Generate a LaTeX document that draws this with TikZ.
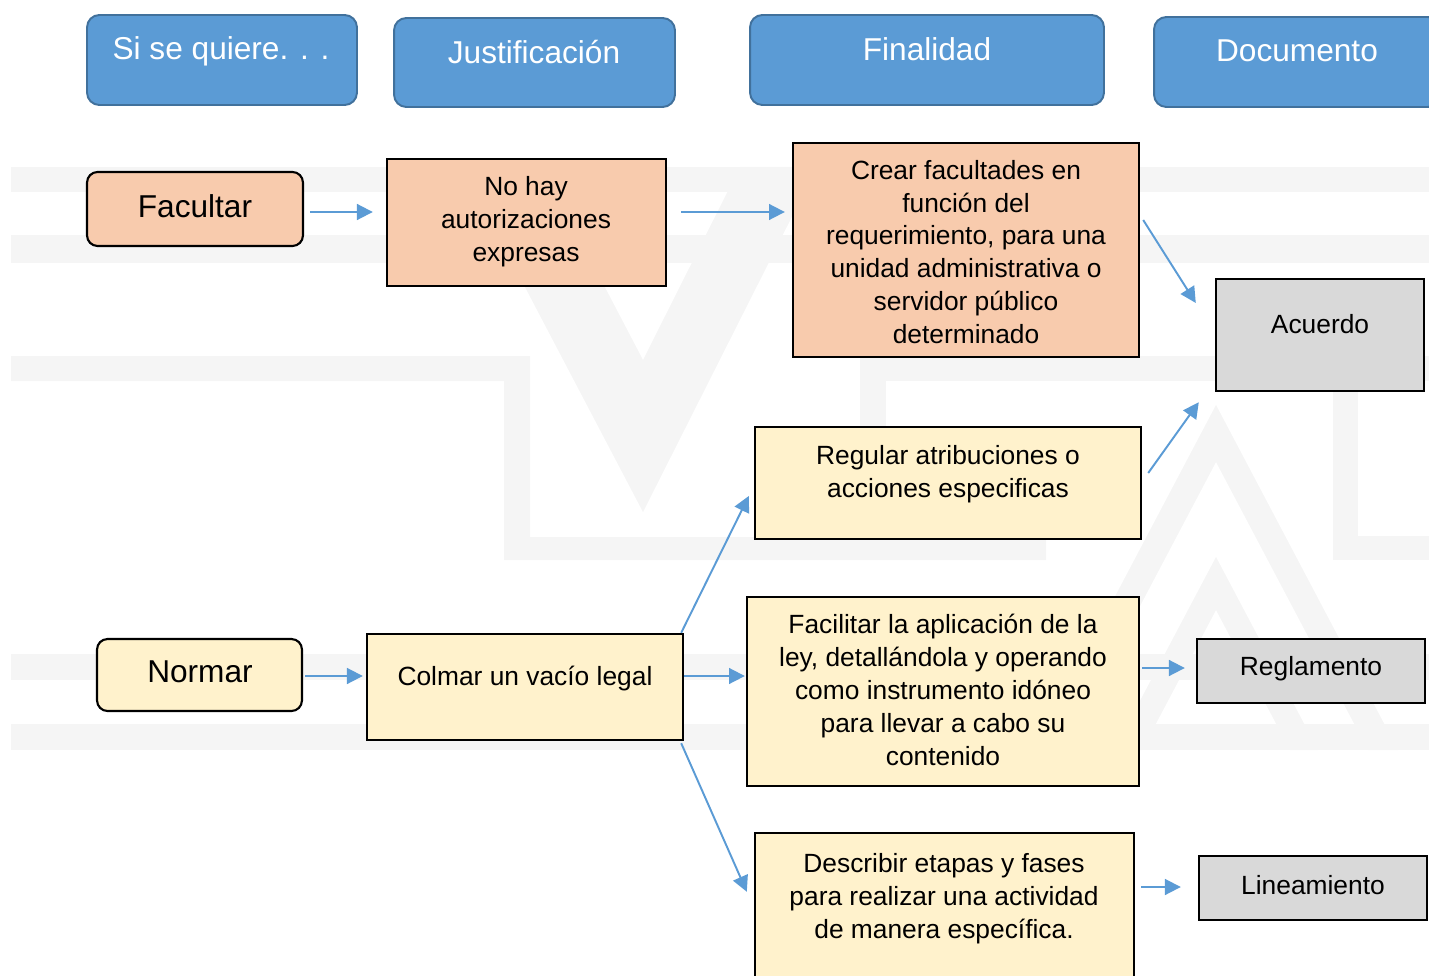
\documentclass[tikz,border=0pt]{standalone}
\usepackage{fontspec}
\setmainfont{Liberation Sans}
\usepackage{xcolor}
\definecolor{headblue}{HTML}{5B9BD5}
\definecolor{headline}{HTML}{41719C}
\definecolor{peach}{HTML}{F8CBAD}
\definecolor{cream}{HTML}{FFF2CC}
\definecolor{docgray}{HTML}{D9D9D9}
\definecolor{linkblue}{HTML}{5B9BD5}
\definecolor{wmark}{HTML}{F5F5F5}
\usepackage{tikz}
\usetikzlibrary{arrows.meta,calc}

\begin{document}
\begin{tikzpicture}[x=0.02cm, y=-0.02cm,
    head/.style={draw=headline, fill=headblue, line width=1.1pt, rounded corners=7pt},
    headtxt/.style={font=\fontsize{18}{22}\selectfont, text=white, inner sep=0pt},
    verb/.style={draw=black, line width=1.2pt, rounded corners=6pt},
    verbtxt/.style={font=\fontsize{18}{22}\selectfont, inner sep=0pt},
    box/.style={draw=black, line width=1.4pt},
    txt/.style={font=\fontsize{15}{18.7}\selectfont, align=center, inner sep=0pt},
    link/.style={linkblue, line width=1.1pt, -{Triangle[length=9pt, width=9pt]}}]
        \useasboundingbox (0,0) rectangle (1429,976);
        \clip (0,0) rectangle (1429,976);

        % watermark
        \fill[wmark] (11,167) rectangle (1429,192);
        \fill[wmark] (11,235) rectangle (1429,263);
        \fill[wmark] (11,356) -- (530,356) -- (530,537) -- (1046,537) -- (1046,560) -- (504,560) -- (504,381) -- (11,381) -- cycle;
        \fill[wmark] (860,356) rectangle (1429,381);
        \fill[wmark] (860,381) rectangle (886,537);
        \fill[wmark] (1333,381) rectangle (1358,560);
        \fill[wmark] (1358,536) rectangle (1429,560);
        \fill[wmark] (11,654) rectangle (1429,680);
        \fill[wmark] (11,724) rectangle (1429,750);
        \fill[wmark] (462,167) -- (643,512) -- (817,167) -- (740,167) -- (643,360) -- (542,167) -- cycle;
        \fill[wmark] (1216,405) -- (1398,750) -- (1368,750) -- (1216,462) -- (1064,750) -- (1034,750) -- cycle;
        \fill[wmark] (1216,557) -- (1318,750) -- (1290,750) -- (1216,610) -- (1142,750) -- (1114,750) -- cycle;

        % Column headers
        \node[head, minimum width=5.4cm, minimum height=1.8cm] (quiere) at (222,60) {};
        \node[head, minimum width=5.62cm, minimum height=1.78cm] (justif) at (534.5,62.5) {};
        \node[head, minimum width=7.08cm, minimum height=1.8cm] (final) at (927,60) {};
        \node[head, minimum width=5.72cm, minimum height=1.8cm] (docum) at (1297,62) {};
        \node[headtxt] (quiere-t) at (221,51) {Si se quiere. . .};
        \node[headtxt] (justif-t) at (534,52) {Justificación};
        \node[headtxt] (final-t) at (927,49) {Finalidad};
        \node[headtxt] (docum-t) at (1297,51) {Documento};

        % Facultar row
        \node[verb, fill=peach, minimum width=4.32cm, minimum height=1.48cm] (facultar) at (195,209) {};
        \node[verbtxt] (facultar-t) at (195,206) {Facultar};
        \node[box, fill=peach, minimum width=5.58cm, minimum height=2.54cm] (nohay) at (526.5,222.5) {};
        \node[txt] (nohay-t) at (526,222) {No hay\\autorizaciones\\expresas};
        \node[box, fill=peach, minimum width=6.92cm, minimum height=4.28cm] (crear) at (966,250) {};
        \node[txt] (crear-t) at (966,252) {Crear facultades en\\función del\\requerimiento, para una\\unidad administrativa o\\servidor público\\determinado};
        \node[box, fill=docgray, minimum width=4.16cm, minimum height=2.24cm] (acuerdo) at (1320,335) {};
        \node[txt] (acuerdo-t) at (1320,324) {Acuerdo};

        % Normar row
        \node[verb, fill=cream, minimum width=4.1cm, minimum height=1.44cm] (normar) at (199.5,675) {};
        \node[verbtxt] (normar-t) at (200,672) {Normar};
        \node[box, fill=cream, minimum width=6.32cm, minimum height=2.12cm] (colmar) at (525,687) {};
        \node[txt] (colmar-t) at (525,679) {Colmar un vacío legal};
        \node[box, fill=cream, minimum width=7.72cm, minimum height=2.24cm] (regular) at (948,483) {};
        \node[txt] (regular-t) at (948,474) {Regular atribuciones o\\acciones especificas};
        \node[box, fill=cream, minimum width=7.84cm, minimum height=3.78cm] (facilitar) at (943,691.5) {};
        \node[txt] (facilitar-t) at (943,690) {Facilitar la aplicación de la\\ley, detallándola y operando\\como instrumento idóneo\\para llevar a cabo su\\contenido};
        \node[box, fill=cream, minimum width=7.58cm, minimum height=3.54cm] (describir) at (944.5,921.5) {};
        \node[txt] (describir-t) at (944,899) {Describir etapas y fases\\para realizar una actividad\\de manera específica.};
        \node[box, fill=docgray, minimum width=4.56cm, minimum height=1.28cm] (reglamento) at (1311,671) {};
        \node[txt] (reglamento-t) at (1311,669) {Reglamento};
        \node[box, fill=docgray, minimum width=4.56cm, minimum height=1.28cm] (lineamiento) at (1313,888) {};
        \node[txt] (lineamiento-t) at (1313,885) {Lineamiento};

        % Connectors
        \draw[link] ($(facultar.east)+(6,3)$) -- ($(nohay.west)+(-13,-10.5)$);
        \draw[link] ($(nohay.east)+(14,-10.5)$) -- ($(crear.west)+(-7,-38)$);
        \draw[link] ($(crear.east)+(3,-30)$) -- ($(acuerdo.west)+(-19,-32)$);
        \draw[link] ($(normar.east)+(2,1)$) -- ($(colmar.west)+(-3,-11)$);
        \draw[link] ($(colmar.north east)+(-3,0)$) -- ($(regular.west)+(-5,13)$);
        \draw[link] ($(colmar.east)+(0,-11)$) -- ($(facilitar.west)+(-1,-15.5)$);
        \draw[link] ($(colmar.south east)+(-3,2)$) -- ($(describir.north west)+(-7,60)$);
        \draw[link] ($(regular.east)+(6,-10)$) -- ($(acuerdo.south west)+(-16,10)$);
        \draw[link] ($(facilitar.east)+(2,-23.5)$) -- ($(reglamento.west)+(-11,-3)$);
        \draw[link] ($(describir.east)+(6,-34.5)$) -- ($(lineamiento.west)+(-17,-1)$);
      \end{tikzpicture}
\end{document}
